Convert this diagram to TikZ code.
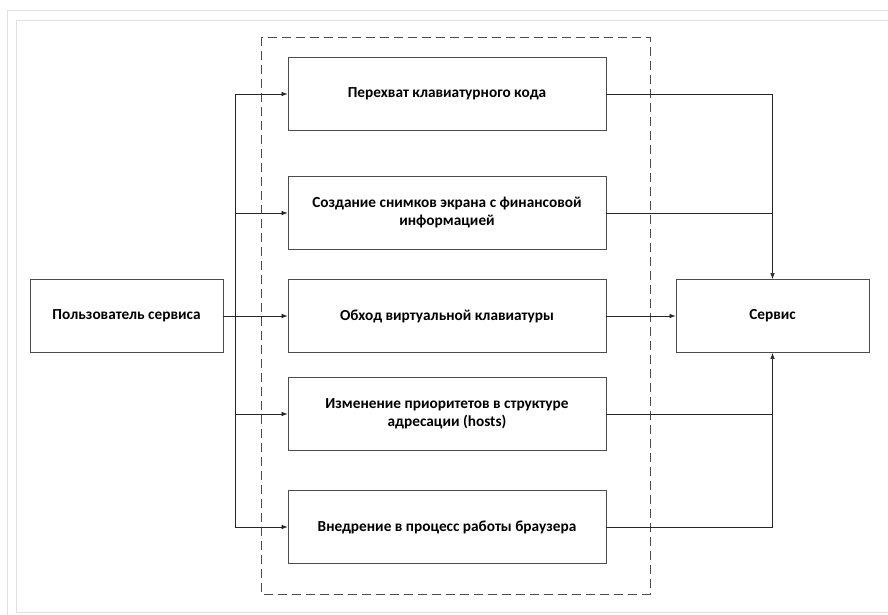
\documentclass[tikz,border=0pt]{standalone}
\usepackage{fontspec}
\setmainfont{Carlito}
\usepackage{tikz}
\usetikzlibrary{calc, positioning, arrows.meta}

\tikzset{
    blok/.style={draw=black!70, line width=0.9pt, minimum height=73pt, align=center,
        font=\bfseries\fontsize{15.3}{18}\selectfont, inner sep=2pt},
    srednij/.style={blok, minimum width=318pt},
    krajnij/.style={blok, minimum width=193pt},
    svyaz/.style={line width=0.6pt, black!85},
    ramka/.style={draw=black!12, line width=1pt}
}

\begin{document}
\begin{tikzpicture}[>={Latex[length=6pt, width=4.5pt]}, x=1pt, y=-1pt]
    \useasboundingbox (0,0) rectangle (888,615);
    % 1. Рамка
    \draw[ramka] (7,615) -- (7,11) -- (888,11);
    \draw[ramka] (888,612) -- (16,612) -- (16,21) -- (888,21);

    % 2. Пунктирная граница
    \draw[black!70, line width=0.7pt, dash pattern=on 9pt off 5pt] (261,37) rectangle (650,594);

    % 3. Блоки
    \node[krajnij] (polz) at (126.5,316) {Пользователь сервиса};
    \node[krajnij] (serv) at (772.5,316) {Сервис};
    \node[srednij] (b1) at (447,94) {Перехват клавиатурного кода};
    \node[srednij] (b2) at (447,213) {Создание снимков экрана с финансовой\\информацией};
    \node[srednij] (b3) at (447,316) {Обход виртуальной клавиатуры};
    \node[srednij] (b4) at (447,414) {Изменение приоритетов в структуре\\адресации (hosts)};
    \node[srednij] (b5) at (447,527) {Внедрение в процесс работы браузера};

    % 4. Связи слева
    \coordinate (razv) at (235,316);
    \draw[svyaz] (polz.east) -- (razv);
    \foreach \b in {b1,b2,b3,b4,b5} {
        \draw[svyaz, ->] (razv) |- (\b.west);
    }

    % 5. Связи справа
    \draw[svyaz, ->] (b1.east) -| (serv.north);
    \draw[svyaz] (b2.east) -- (b2.east -| serv.north);
    \draw[svyaz, ->] (b3.east) -- (serv.west);
    \draw[svyaz, ->] (b5.east) -| (serv.south);
    \draw[svyaz] (b4.east) -- (b4.east -| serv.south);
\end{tikzpicture}
\end{document}
